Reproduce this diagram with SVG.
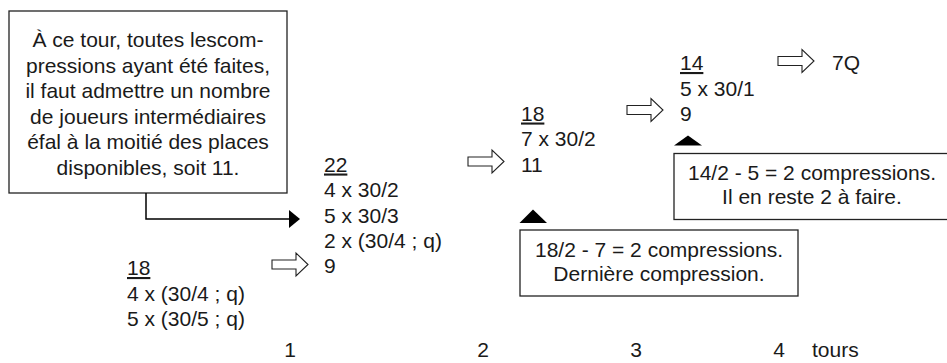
<svg xmlns="http://www.w3.org/2000/svg" xmlns:xlink="http://www.w3.org/1999/xlink" width="947" height="363" viewBox="0 0 947 363">
<style>
text{font-family:"Liberation Sans",Arial,sans-serif;font-size:21px;fill:#1a1a1a}
.c{text-anchor:middle}
.box{fill:#fff;stroke:#222;stroke-width:1.3}
.u{text-decoration:underline}
.hollow{fill:#fff;stroke:#222;stroke-width:1.1}
.tri{fill:#000}
.conn{fill:none;stroke:#000;stroke-width:1.5}
</style>
<defs>
<path id="harrow" d="M0,-4.5 H24 V-11.5 L36,0 L24,11.5 V4.5 H0 Z"/>
<marker id="head" markerWidth="11" markerHeight="18" refX="10" refY="9" orient="auto" markerUnits="userSpaceOnUse">
<path d="M0,0 L11,9 L0,18 Z" fill="#000"/>
</marker>
</defs>
<rect width="947" height="363" fill="#fff"/>

<g id="note1">
<rect class="box" x="9" y="11" width="278" height="182"/>
<text class="c" x="148" y="47">À ce tour, toutes lescom-</text>
<text class="c" x="148" y="72.5">pressions ayant été faites,</text>
<text class="c" x="148" y="98">il faut admettre un nombre</text>
<text class="c" x="148" y="123.5">de joueurs intermédiaires</text>
<text class="c" x="148" y="149">éfal à la moitié des places</text>
<text class="c" x="148" y="174.5">disponibles, soit 11.</text>
</g>

<g id="connectors">
<path class="conn" d="M146,193 V219 H299" marker-end="url(#head)"/>
<use href="#harrow" class="hollow" x="272" y="264.5"/>
<use href="#harrow" class="hollow" x="468" y="161.5"/>
<use href="#harrow" class="hollow" x="627" y="110"/>
<use href="#harrow" class="hollow" x="778" y="61"/>
<path class="tri" d="M519.5,223 L533,209.5 L547,223 Z"/>
<path class="tri" d="M674,145.5 L688,135.5 L702,145.5 Z"/>
</g>

<g id="round1">
<text x="127" y="275"><tspan class="u">18</tspan></text>
<text x="127" y="300.5">4 x (30/4 ; q)</text>
<text x="127" y="325.5">5 x (30/5 ; q)</text>
</g>

<g id="round2">
<text x="324" y="171.5"><tspan class="u">22</tspan></text>
<text x="324" y="197">4 x 30/2</text>
<text x="324" y="222.5">5 x 30/3</text>
<text x="324" y="248">2 x (30/4 ; q)</text>
<text x="324" y="273">9</text>
</g>

<g id="round3">
<text x="521" y="120.5"><tspan class="u">18</tspan></text>
<text x="521" y="146">7 x 30/2</text>
<text x="521" y="171.5">11</text>
</g>

<g id="round4">
<text x="680" y="70"><tspan class="u">14</tspan></text>
<text x="680" y="95.5">5 x 30/1</text>
<text x="680" y="120.5">9</text>
</g>

<g id="result">
<text x="832" y="70">7Q</text>
</g>

<g id="note2">
<rect class="box" x="520" y="230" width="278" height="66"/>
<text class="c" x="659" y="257">18/2 - 7 = 2 compressions.</text>
<text class="c" x="659" y="281">Dernière compression.</text>
</g>

<g id="note3">
<rect class="box" x="674" y="153.5" width="280" height="66"/>
<text class="c" x="812" y="180">14/2 - 5 = 2 compressions.</text>
<text class="c" x="812" y="203.5">Il en reste 2 à faire.</text>
</g>

<g id="axis">
<text class="c" x="290" y="357">1</text>
<text class="c" x="483" y="357">2</text>
<text class="c" x="636" y="357">3</text>
<text class="c" x="779" y="357">4</text>
<text x="812" y="357">tours</text>
</g>
</svg>
